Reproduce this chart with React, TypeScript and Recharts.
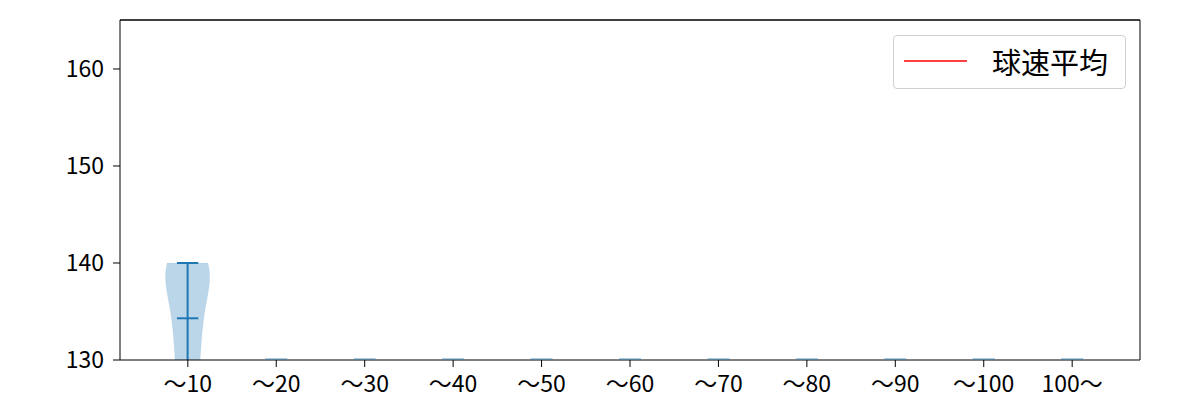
import React from 'react';
import { ComposedChart, Bar, Scatter, Line, XAxis, YAxis, Legend, ReferenceLine } from 'recharts';

const categories = ['〜10', '〜20', '〜30', '〜40', '〜50', '〜60', '〜70', '〜80', '〜90', '〜100', '100〜'];
const speedMax: (number | null)[] = [140, null, null, null, null, null, null, null, null, null, null];
const speedMin: (number | null)[] = [130, null, null, null, null, null, null, null, null, null, null];
const speedMedian: (number | null)[] = [134.3, null, null, null, null, null, null, null, null, null, null];
const emptyMarker: (number | null)[] = [null, 130, 130, 130, 130, 130, 130, 130, 130, 130, 130];
const avgSpeed: (number | null)[] = [null, null, null, null, null, null, null, null, null, null, null];
const yTicks = [130, 140, 150, 160];
const yMax = 165.05;
const densityLevels = [130, 131, 132, 133, 134, 135, 136, 137, 138, 139, 140];
const densityWidths = [0.57, 0.6, 0.63, 0.67, 0.72, 0.78, 0.86, 0.94, 0.995, 1.0, 0.93];

const data = categories.map((c, i) => ({
  cat: c,
  range: speedMax[i] != null ? [speedMin[i], speedMax[i]] : null,
  median: speedMedian[i],
  empty: emptyMarker[i],
  avg: avgSpeed[i],
}));

const BLUE = '#1f77b4';
const FONT = '"Noto Sans CJK JP", "Noto Sans", sans-serif';

function smoothPath(pts: number[][], moveFirst: boolean) {
  let d = moveFirst ? `M${pts[0][0]},${pts[0][1]}` : `L${pts[0][0]},${pts[0][1]}`;
  for (let i = 0; i < pts.length - 1; i++) {
    const p0 = pts[i - 1] || pts[i];
    const p1 = pts[i];
    const p2 = pts[i + 1];
    const p3 = pts[i + 2] || p2;
    const c1x = p1[0] + (p2[0] - p0[0]) / 6;
    const c1y = p1[1] + (p2[1] - p0[1]) / 6;
    const c2x = p2[0] - (p3[0] - p1[0]) / 6;
    const c2y = p2[1] - (p3[1] - p1[1]) / 6;
    d += ` C${c1x},${c1y} ${c2x},${c2y} ${p2[0]},${p2[1]}`;
  }
  return d;
}

const ViolinShape = (props: any) => {
  const { x, y, width, height, payload } = props;
  if (!payload || !payload.range) return <g />;
  const [lo, hi] = payload.range;
  const top = Math.min(y, y + height);
  const h = Math.abs(height);
  const cx = x + width / 2;
  const ppu = h / (hi - lo);
  const toY = (v: number) => top + (hi - v) * ppu;
  const maxHalf = width * 0.25;
  const capHalf = width * 0.121;
  const right = densityLevels.map((v, i) => [cx + densityWidths[i] * maxHalf, toY(v)]);
  const left = densityLevels.map((v, i) => [cx - densityWidths[i] * maxHalf, toY(v)]).reverse();
  const d = smoothPath(right, true) + ' ' + smoothPath(left, false) + ' Z';
  const my = toY(payload.median);
  return (
    <g>
      <path d={d} fill={BLUE} fillOpacity={0.3} stroke={BLUE} strokeOpacity={0.05} />
      <line x1={cx} x2={cx} y1={toY(hi)} y2={toY(lo)} stroke={BLUE} strokeWidth={2} />
      <line x1={cx - capHalf} x2={cx + capHalf} y1={toY(hi)} y2={toY(hi)} stroke={BLUE} strokeWidth={2} />
      <line x1={cx - capHalf} x2={cx + capHalf} y1={my} y2={my} stroke={BLUE} strokeWidth={2} />
    </g>
  );
};

const EmptyMark = (props: any) => {
  const { cx, cy, payload } = props;
  if (!payload || payload.empty == null || cx == null || cy == null) return <g />;
  return <line x1={cx - 11} x2={cx + 11} y1={cy - 1} y2={cy - 1} stroke={BLUE} strokeOpacity={0.5} strokeWidth={1.5} />;
};

const LegendBox = () => (
  <div
    style={{
      width: 233,
      height: 54,
      boxSizing: 'border-box',
      border: '1px solid #d0d0d0',
      borderRadius: 4,
      background: '#fff',
      position: 'relative',
      fontFamily: FONT,
    }}
  >
    <svg width={70} height={10} style={{ position: 'absolute', left: 10, top: 20 }}>
      <line x1={0} x2={63} y1={5} y2={5} stroke="red" strokeWidth={1.5} />
    </svg>
    <span
      style={{
        position: 'absolute',
        left: 98,
        top: 5,
        fontSize: 29,
        lineHeight: '40px',
        color: '#000',
        whiteSpace: 'nowrap',
      }}
    >
      球速平均
    </span>
  </div>
);

const axisStroke = { stroke: '#000', strokeWidth: 1 };

export default function App() {
  return (
    <div style={{ position: 'absolute', left: 0, top: 0, width: 1200, height: 400, background: '#fff' }}>
      <ComposedChart
        width={1200}
        height={400}
        data={data}
        margin={{ top: 19, right: 59, bottom: 0, left: 0 }}
        barCategoryGap={0}
        barGap={0}
      >
        <XAxis
          dataKey="cat"
          padding={{ left: 23.6, right: 23.6 }}
          height={40}
          tickSize={7}
          tickMargin={9}
          interval={0}
          stroke="#000"
          axisLine={axisStroke}
          tickLine={axisStroke}
          tick={{ fill: '#000', fontSize: 23, fontFamily: FONT }}
        />
        <XAxis
          xAxisId="top"
          dataKey="cat"
          orientation="top"
          padding={{ left: 23.6, right: 23.6 }}
          height={1}
          stroke="#000"
          tick={false}
          tickLine={false}
          axisLine={axisStroke}
        />
        <YAxis
          width={120}
          domain={[130, yMax]}
          ticks={yTicks}
          allowDataOverflow
          tickSize={7}
          tickMargin={9}
          stroke="#000"
          axisLine={axisStroke}
          tickLine={axisStroke}
          tick={{ fill: '#000', fontSize: 23, fontFamily: FONT }}
        />
        <YAxis
          yAxisId="right"
          orientation="right"
          width={1}
          domain={[0, 1]}
          stroke="#000"
          tick={false}
          tickLine={false}
          axisLine={axisStroke}
        />
        <ReferenceLine y={yMax} stroke="#000" strokeWidth={1} ifOverflow="visible" />
        <Bar dataKey="range" shape={ViolinShape} isAnimationActive={false} />
        <Scatter dataKey="empty" xAxisId="top" shape={EmptyMark} isAnimationActive={false} />
        <Line dataKey="avg" yAxisId="right" name="球速平均" stroke="red" dot={false} isAnimationActive={false} />
        <Legend
          layout="vertical"
          align="center"
          verticalAlign="middle"
          content={() => <LegendBox />}
          wrapperStyle={{ position: 'absolute', left: 893, top: 35, width: 233, height: 54 }}
        />
      </ComposedChart>
    </div>
  );
}
